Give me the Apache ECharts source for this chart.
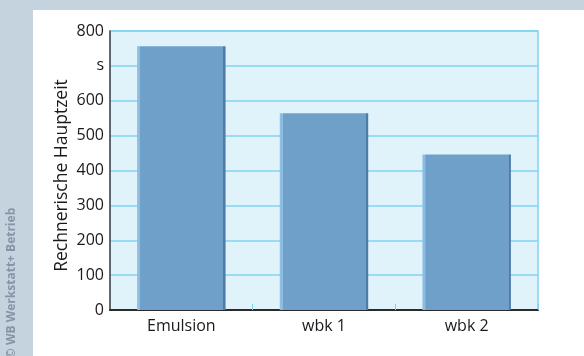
<!DOCTYPE html>
<html><head><meta charset="utf-8">
<script src="https://cdn.jsdelivr.net/npm/echarts@6/dist/echarts.min.js"></script>
<style>html,body{margin:0;padding:0;background:#fff}#c{width:584px;height:356px}</style>
</head><body><div id="c"></div>
<script>
const categories = ['Emulsion', 'wbk 1', 'wbk 2'];
const values = [756, 564, 446];
const yTickLabels = {0:'0',100:'100',200:'200',300:'300',400:'400',500:'500',600:'600',700:'s',800:'800'};
const yAxisTitle = 'Rechnerische Hauptzeit';
const credit = '© WB Werkstatt+ Betrieb';

const chart = echarts.init(document.getElementById('c'), null, {renderer:'canvas'});
const font = '"Open Sans", "Noto Sans", sans-serif';
chart.setOption({
  animation:false,
  backgroundColor:'#ffffff',
  graphic:[
    {type:'rect', left:0, top:0, shape:{width:584, height:10}, style:{fill:'#c5d3de'}, z:-10},
    {type:'rect', left:0, top:0, shape:{width:33, height:356}, style:{fill:'#c5d3de'}, z:-10},
    {type:'text', x:12, y:283, rotation:Math.PI/2, style:{text:credit, fill:'#8595a5', font:'bold 12px "Open Sans", sans-serif', textAlign:'center', textVerticalAlign:'middle'}}
  ],
  grid:{left:110, right:46, top:31, bottom:46, show:true, backgroundColor:'#e0f3fa', borderColor:'#7fd3f2', borderWidth:1.5},
  xAxis:{type:'category', data:categories,
    axisLine:{lineStyle:{color:'#2a2a2a', width:2}},
    axisTick:{show:true, inside:true, length:6, interval:(i)=>i!==0, lineStyle:{color:'#7fd3f2'}},
    axisLabel:{fontSize:16, color:'#1a1a1a', fontFamily:font, margin:8}},
  yAxis:{type:'value', min:0, max:800, interval:100,
    name:yAxisTitle, nameLocation:'middle', nameGap:39, nameRotate:90, nameMoveOverlap:false,
    nameTextStyle:{fontSize:17.5, color:'#1a1a1a', fontFamily:font, padding:[0,0,0,-10]},
    axisLine:{show:true, lineStyle:{color:'#444', width:1.5}},
    axisTick:{show:false},
    axisLabel:{fontSize:16, color:'#1a1a1a', fontFamily:font, margin:6, formatter:v=>yTickLabels[v]},
    splitLine:{lineStyle:{color:'#7fd3f2', width:1.5}}},
  series:[{type:'bar', data:values, barWidth:'62%',
    itemStyle:{
      color:{type:'linear', x:0, y:0, x2:1, y2:0, colorStops:[
        {offset:0, color:'#8fbde2'},{offset:0.034, color:'#8fbde2'},
        {offset:0.035, color:'#6fa0ca'},{offset:0.975, color:'#6fa0ca'},
        {offset:0.976, color:'#4f7ba8'},{offset:1, color:'#4f7ba8'}]}}
  }]
});
</script></body></html>
